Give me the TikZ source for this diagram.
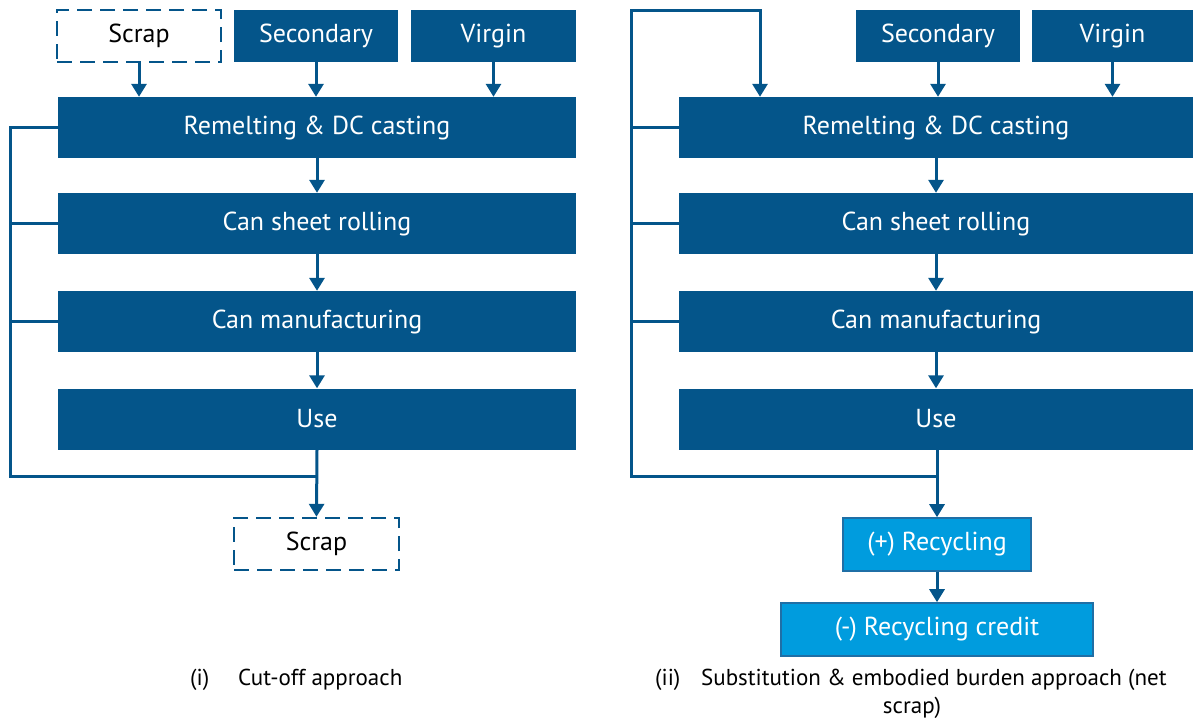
\documentclass[tikz,border=0pt]{standalone}
\usepackage{fontspec}
\setmainfont{PT Sans}
\usetikzlibrary{arrows.meta}
\definecolor{dblue}{HTML}{04558A}
\definecolor{lblue}{HTML}{009CDE}
\definecolor{lbord}{HTML}{1F6FA6}
\tikzset{
  proc/.style={fill=dblue, draw=none, text=white, font=\fontsize{26}{28}\selectfont, inner sep=0pt, anchor=center},
  dbox/.style={draw=dblue, line width=2.4pt, dash pattern=on 15pt off 8pt, fill=white, text=black, font=\fontsize{26}{28}\selectfont, inner sep=0pt},
  lbox/.style={fill=lblue, draw=lbord, line width=1.6pt, text=white, font=\fontsize{26}{28}\selectfont, inner sep=0pt},
  conn/.style={draw=dblue, line width=3pt},
  arr/.style={draw=dblue, line width=3pt, -{Triangle[width=15pt,length=13pt]}},
  captext/.style={font=\fontsize{23}{25}\selectfont, text=black, inner sep=0pt, anchor=west}
}
\begin{document}
\begin{tikzpicture}[x=1pt,y=-1pt]
\useasboundingbox (0,0) rectangle (1193,726);
% ---------- left panel ----------
\node[dbox, minimum width=164pt, minimum height=52pt] (scrapT) at (139,36) {Scrap};
\node[proc, minimum width=164pt, minimum height=52pt] (sec1) at (316,36) {Secondary};
\node[proc, minimum width=165pt, minimum height=52pt] (vir1) at (493.5,36) {Virgin};
\node[proc, minimum width=518pt, minimum height=61pt] (rem1) at (317,127.5) {Remelting \& DC casting};
\node[proc, minimum width=518pt, minimum height=61pt] (roll1) at (317,223.5) {Can sheet rolling};
\node[proc, minimum width=518pt, minimum height=61pt] (man1) at (317,321.5) {Can manufacturing};
\node[proc, minimum width=518pt, minimum height=61pt] (use1) at (317,419) {Use};
\node[dbox, minimum width=165pt, minimum height=52pt] (scrapB) at (316.5,544) {Scrap};
\coordinate (j1) at (317,476);
\coordinate (L1) at (10,476);
\draw[arr] (scrapT.south) -- (scrapT.south |- rem1.north);
\draw[arr] (sec1.south) -- (sec1.south |- rem1.north);
\draw[arr] (vir1.south) -- (vir1.south |- rem1.north);
\draw[arr] (rem1.south) -- (roll1.north);
\draw[arr] (roll1.south) -- (man1.north);
\draw[arr] (man1.south) -- (use1.north);
\draw[conn] (rem1.west) -| (L1) -- (j1);
\draw[conn] (roll1.west) -- (roll1.west -| L1);
\draw[conn] (man1.west) -- (man1.west -| L1);
\draw[arr] (use1.south) -- (scrapB.north);
\node[captext] (capi) at (190,680) {(i)};
\node[captext] (capit) at (238,680) {Cut-off approach};
% ---------- right panel ----------
\node[proc, minimum width=164pt, minimum height=52pt] (sec2) at (938,36) {Secondary};
\node[proc, minimum width=161pt, minimum height=52pt] (vir2) at (1112.5,36) {Virgin};
\node[proc, minimum width=514pt, minimum height=61pt] (rem2) at (936,127.5) {Remelting \& DC casting};
\node[proc, minimum width=514pt, minimum height=61pt] (roll2) at (936,223.5) {Can sheet rolling};
\node[proc, minimum width=514pt, minimum height=61pt] (man2) at (936,321.5) {Can manufacturing};
\node[proc, minimum width=514pt, minimum height=61pt] (use2) at (936,419) {Use};
\node[lbox, minimum width=188pt, minimum height=53pt] (rec) at (937,544.5) {(+) Recycling};
\node[lbox, minimum width=312pt, minimum height=53pt] (cred) at (937,629.5) {(-) Recycling credit};
\coordinate (j2) at (937,476);
\coordinate (L2) at (631,476);
\coordinate (T2) at (631,10);
\coordinate (E2) at (760,10);
\draw[arr] (sec2.south) -- (sec2.south |- rem2.north);
\draw[arr] (vir2.south) -- (vir2.south |- rem2.north);
\draw[arr] (rem2.south) -- (rem2.south |- roll2.north);
\draw[arr] (roll2.south) -- (roll2.south |- man2.north);
\draw[arr] (man2.south) -- (man2.south |- use2.north);
\draw[arr] (j2) -- (L2) -- (T2) -- (E2) -- (E2 |- rem2.north);
\draw[conn] (use2.south -| j2) -- (j2);
\draw[conn] (rem2.west) -- (rem2.west -| L2);
\draw[conn] (roll2.west) -- (roll2.west -| L2);
\draw[conn] (man2.west) -- (man2.west -| L2);
\draw[arr] (j2) -- (rec.north);
\draw[arr] (rec.south) -- (cred.north);
\node[captext] (capii) at (655,680) {(ii)};
\node[captext] (capiit) at (701,680) {Substitution \& embodied burden approach (net};
\node[captext, anchor=center] (capiit2) at (912,708) {scrap)};
\end{tikzpicture}
\end{document}
